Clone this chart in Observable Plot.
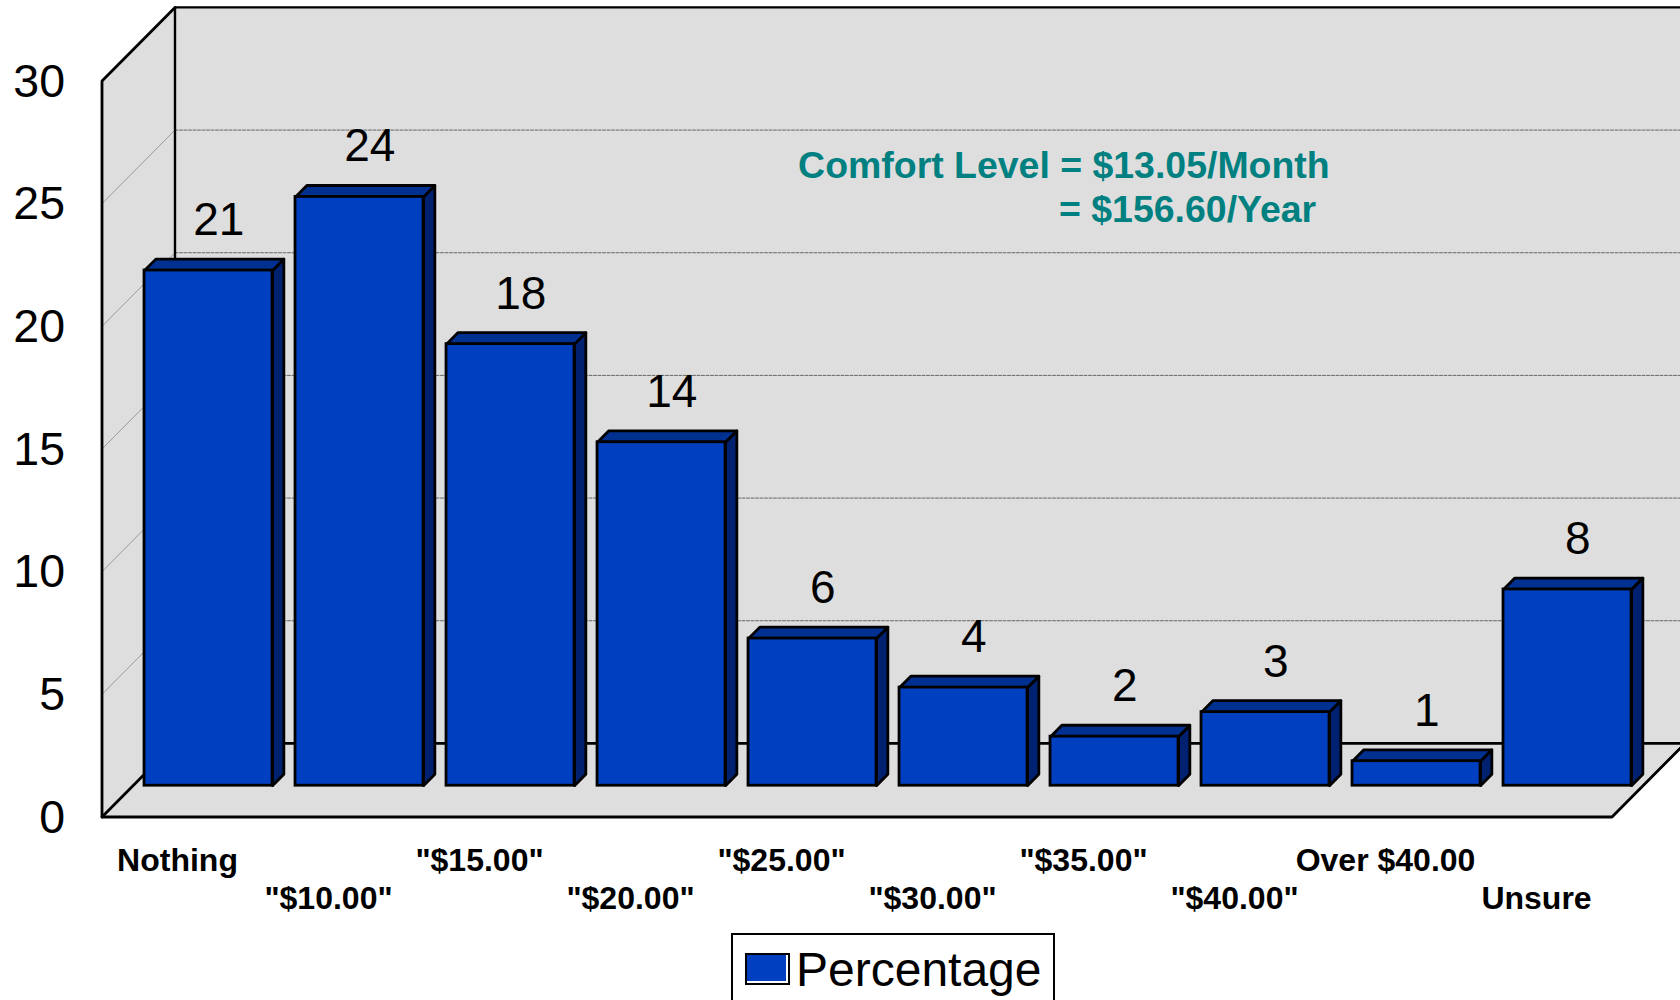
<!DOCTYPE html>
<html>
<head>
<meta charset="utf-8">
<script src="https://cdn.jsdelivr.net/npm/d3@7"></script>
<script src="https://cdn.jsdelivr.net/npm/@observablehq/plot@0.6"></script>
<style>
  html, body { margin: 0; padding: 0; background: #fff; overflow: hidden; font-family: "Liberation Sans", Arial, sans-serif; }
  svg { display: block; }
  #legend { position: relative; box-sizing: border-box; margin-left: 731px; width: 324px; height: 90px; border: 2.5px solid #000; display: flex; align-items: flex-start; background: #fff; }
  #swatch { box-sizing: border-box; margin: 18px 0 0 12px; width: 45px; height: 32px; background: #0040c0; border: 2.5px solid #000; box-shadow: inset -2px -2px 0 #fff; }
  #legend span { font-size: 48px; line-height: 48px; margin: 11px 0 0 6px; color: #000; }
</style>
</head>
<body>
<div id="chart"></div>
<div id="legend"><div id="swatch"></div><span>Percentage</span></div>
<script>
const categories = ["Nothing", "\"$10.00\"", "\"$15.00\"", "\"$20.00\"", "\"$25.00\"", "\"$30.00\"", "\"$35.00\"", "\"$40.00\"", "Over $40.00", "Unsure"];
const values = [21, 24, 18, 14, 6, 4, 2, 3, 1, 8];
const yTicks = [0, 5, 10, 15, 20, 25, 30];
const gridValues = [5, 10, 15, 20, 25];
const annotations = ["Comfort Level = $13.05/Month", "= $156.60/Year"];

// Oblique projection: depth d (0 = front plane, 1 = back wall) shifts a point along both scales.
const depthX = 0.4834, depthY = 3;
const P = (x, v, d = 0) => ({x: x + depthX * d, y: v + depthY * d});
const barW = 0.8477, dF = 0.425, dB = 0.58, slots = categories.length, yMax = 30;

const bars = values.map((v, i) => ({v, i, l: i + (1 - barW) / 2, r: i + (1 + barW) / 2}));
const front = bars.map(b => ({
  x1: P(b.l, 0, dF).x, x2: P(b.r, 0, dF).x, y1: P(b.l, 0, dF).y, y2: P(b.l, b.v, dF).y
}));
const sides = bars.flatMap(b => [P(b.r, 0, dF), P(b.r, 0, dB), P(b.r, b.v, dB), P(b.r, b.v, dF)].map(p => ({...p, i: b.i})));
const tops = bars.flatMap(b => [P(b.l, b.v, dF), P(b.r, b.v, dF), P(b.r, b.v, dB), P(b.l, b.v, dB)].map(p => ({...p, i: b.i})));
const barLabels = bars.map(b => ({...P(b.i + 0.5, b.v, 0.555), text: String(b.v)}));

const leftWall = [P(0, 0), P(0, 0, 1), P(0, yMax, 1), P(0, yMax)];
const backWall = [P(0, 0, 1), P(slots, 0, 1), P(slots, yMax, 1), P(0, yMax, 1)];
const floor = [P(0, 0), P(slots, 0), P(slots, 0, 1), P(0, 0, 1)];
const wallGridDiag = gridValues.flatMap(v => [P(0, v), P(0, v, 1)].map(p => ({...p, v})));
const wallGridBack = gridValues.flatMap(v => [P(0, v, 1), P(slots, v, 1)].map(p => ({...p, v})));
const xy = {x: "x", y: "y"};
const seg = (pts, o) => Plot.line(pts, {...xy, ...o});

const blue = "#0040c0", side = "#002070", topc = "#003090", wall = "#dedede", teal = "#008080";

const plot = Plot.plot({
  width: 1680, height: 933,
  marginLeft: 101.5, marginRight: 68.5, marginTop: 80.5, marginBottom: 116.5,
  style: {fontFamily: "'Liberation Sans', Arial, sans-serif", background: "transparent", overflow: "hidden"},
  x: {domain: [0, slots]},
  y: {domain: [0, yMax]},
  marks: [
    seg(backWall, {curve: "linear-closed", fill: wall, stroke: "none"}),
    seg(leftWall, {curve: "linear-closed", fill: wall, stroke: "none"}),
    seg(floor, {curve: "linear-closed", fill: wall, stroke: "none"}),
    seg(wallGridDiag, {z: "v", stroke: "#9a9a9a", strokeWidth: 1}),
    seg(wallGridBack, {z: "v", stroke: "#666", strokeWidth: 1, strokeDasharray: "3,1.5"}),
    seg([P(0, 0, 1), P(0, yMax, 1), P(slots, yMax, 1)], {stroke: "#000", strokeWidth: 2.4}),
    seg([P(0, 0, 1), P(slots, 0, 1)], {stroke: "#000", strokeWidth: 2.8}),
    seg([P(0, yMax, 1), P(0, yMax), P(0, 0), P(slots, 0), P(slots, 0, 1)], {stroke: "#000", strokeWidth: 2.8}),
    seg([P(0, 0), P(0, 0, 1)], {stroke: "#000", strokeWidth: 2.8}),
    Plot.line(sides, {...xy, z: "i", curve: "linear-closed", fill: side, stroke: "#000", strokeWidth: 2.8}),
    Plot.line(tops, {...xy, z: "i", curve: "linear-closed", fill: topc, stroke: "#000", strokeWidth: 2.8}),
    Plot.rect(front, {x1: "x1", x2: "x2", y1: "y1", y2: "y2", fill: blue, stroke: "#000", strokeWidth: 2.8}),
    Plot.text(barLabels, {...xy, text: "text", fontSize: 46, fill: "#000", lineAnchor: "bottom", dy: -26, dx: 0.7}),
    Plot.text(annotations.slice(0, 1), {x: () => 4.61, y: () => 26.04, text: d => d, textAnchor: "start", lineAnchor: "bottom", fontSize: 37.45, fontWeight: "bold", fill: teal}),
    Plot.text(annotations.slice(1), {x: () => 6.338, y: () => 24.24, text: d => d, textAnchor: "start", lineAnchor: "bottom", fontSize: 37.45, fontWeight: "bold", fill: teal}),
    Plot.axisY(yTicks, {anchor: "left", tickSize: 0, tickPadding: 37, dy: 0.7, fontSize: 46.5, label: null, tickFormat: d => String(d), fill: "#000"}),
    Plot.axisX(categories.map((_, i) => i + 0.5).filter((_, i) => i % 2 === 0), {anchor: "bottom", tickSize: 0, tickPadding: 31, fontSize: 32, fontWeight: "bold", label: null, tickFormat: t => categories[t - 0.5], fill: "#000"}),
    Plot.axisX(categories.map((_, i) => i + 0.5).filter((_, i) => i % 2 === 1), {anchor: "bottom", tickSize: 0, tickPadding: 69, fontSize: 32, fontWeight: "bold", label: null, tickFormat: t => categories[t - 0.5], fill: "#000"})
  ]
});
document.getElementById("chart").appendChild(plot);
</script>
</body>
</html>
